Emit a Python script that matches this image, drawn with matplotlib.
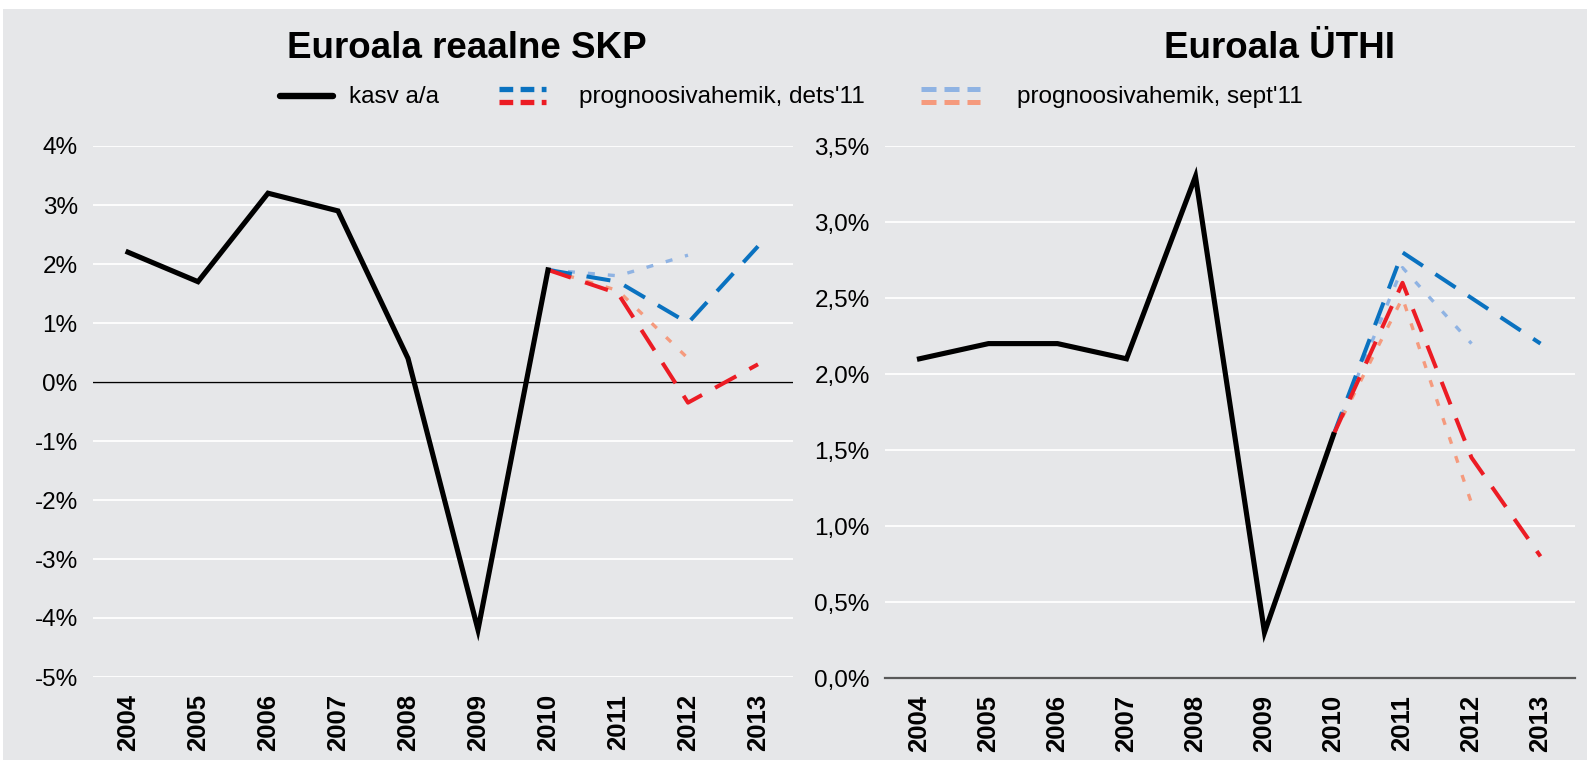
import numpy as np
import matplotlib
matplotlib.use("Agg")
import matplotlib.pyplot as plt
from matplotlib.lines import Line2D
from matplotlib.patches import Rectangle

# ---------------- data ----------------
years = ["2004", "2005", "2006", "2007", "2008", "2009", "2010", "2011", "2012", "2013"]

# Left: euro area real GDP growth (%)
gdp_actual = [2.2, 1.7, 3.2, 2.9, 0.4, -4.2, 1.9]          # 2004-2010
gdp_dec_hi = [1.9, 1.7, 1.0, 2.3]                          # 2010-2013
gdp_dec_lo = [1.9, 1.5, -0.35, 0.3]                        # 2010-2013
gdp_sep_hi = [1.9, 1.8, 2.15]                              # 2010-2012
gdp_sep_lo = [1.9, 1.55, 0.4]                              # 2010-2012

# Right: euro area HICP (%)
cpi_actual = [2.1, 2.2, 2.2, 2.1, 3.3, 0.3, 1.6]           # 2004-2010
cpi_dec_hi = [1.6, 2.8, 2.5, 2.2]                          # 2010-2013
cpi_dec_lo = [1.6, 2.6, 1.45, 0.8]                         # 2010-2013
cpi_sep_hi = [1.6, 2.7, 2.2]                               # 2010-2012
cpi_sep_lo = [1.6, 2.5, 1.15]                              # 2010-2012

gdp_ticks = [-5, -4, -3, -2, -1, 0, 1, 2, 3, 4]
gdp_ticklabels = ["-5%", "-4%", "-3%", "-2%", "-1%", "0%", "1%", "2%", "3%", "4%"]
cpi_ticks = [0.0, 0.5, 1.0, 1.5, 2.0, 2.5, 3.0, 3.5]
cpi_ticklabels = ["0,0%", "0,5%", "1,0%", "1,5%", "2,0%", "2,5%", "3,0%", "3,5%"]

titles = ["Euroala reaalne SKP", "Euroala ÜTHI"]
legend_labels = ["kasv a/a", "prognoosivahemik, dets'11", "prognoosivahemik, sept'11"]

# ---------------- style ----------------
BG = "#e6e7e9"
C_BLACK = "#000000"
C_BLUE = "#0a72c0"
C_RED = "#ec1c24"
C_LBLUE = "#8fb3e3"
C_LRED = "#f59a7d"

plt.rcParams["font.family"] = ["Liberation Sans", "DejaVu Sans"]

W, H = 1587, 760
fig = plt.figure(figsize=(W / 100, H / 100), dpi=100, facecolor="white")
fig.patches.append(Rectangle((3 / W, 0), 1 - 3 / W, (H - 9) / H, transform=fig.transFigure,
                             facecolor=BG, edgecolor="none", zorder=-10))


def fx(px):
    return px / W


def fy(py):
    return 1 - py / H


axL = fig.add_axes([fx(93), fy(677), 700 / W, (677 - 146) / H])
axR = fig.add_axes([fx(885), fy(678), 690 / W, (678 - 146) / H])

x_all = np.arange(len(years))
x_act = x_all[:7]
x_fc4 = x_all[6:10]
x_fc3 = x_all[6:9]

LW_ACT = 3.7
LW_DEC = 2.9
LW_SEP = 2.4
DASH_DEC = (6.0, 3.7)
DASH_SEP = (2.1, 3.9)


def draw(ax, actual, dec_hi, dec_lo, sep_hi, sep_lo, ticks, ticklabels, ylim):
    ax.set_facecolor("none")
    ax.set_xlim(-0.5, len(years) - 0.5)
    ax.set_ylim(*ylim)
    ax.set_yticks(ticks)
    ax.set_yticklabels(ticklabels, fontsize=17.5)
    ax.set_xticks(x_all)
    ax.set_xticklabels(years, rotation=90, fontsize=18.5, fontweight="bold")
    ax.tick_params(axis="both", length=0)
    ax.tick_params(axis="y", pad=11)
    ax.tick_params(axis="x", pad=12)
    ax.grid(axis="y", color="white", linewidth=1.3)
    ax.grid(axis="x", visible=False)
    ax.set_axisbelow(True)
    for s in ax.spines.values():
        s.set_visible(False)

    ax.plot(x_fc3, sep_hi, color=C_LBLUE, lw=LW_SEP, dashes=DASH_SEP, zorder=3)
    ax.plot(x_fc3, sep_lo, color=C_LRED, lw=LW_SEP, dashes=DASH_SEP, zorder=3)
    ax.plot(x_fc4, dec_hi, color=C_BLUE, lw=LW_DEC, dashes=DASH_DEC, zorder=4)
    ax.plot(x_fc4, dec_lo, color=C_RED, lw=LW_DEC, dashes=DASH_DEC, zorder=4)
    ax.plot(x_act, actual, color=C_BLACK, lw=LW_ACT, solid_joinstyle="miter", zorder=5)


draw(axL, gdp_actual, gdp_dec_hi, gdp_dec_lo, gdp_sep_hi, gdp_sep_lo,
     gdp_ticks, gdp_ticklabels, (-5, 4))
draw(axR, cpi_actual, cpi_dec_hi, cpi_dec_lo, cpi_sep_hi, cpi_sep_lo,
     cpi_ticks, cpi_ticklabels, (0, 3.5))

# zero line on the left chart, axis line on the right chart
axL.axhline(0, color="black", lw=1.0, zorder=2)
axR.spines["bottom"].set_visible(True)
axR.spines["bottom"].set_color("#595959")
axR.spines["bottom"].set_linewidth(1.6)

# titles
fig.text(fx(467), fy(49), titles[0], fontsize=26.5, fontweight="bold", ha="center", va="center")
fig.text(fx(1280), fy(49), titles[1], fontsize=26.5, fontweight="bold", ha="center", va="center")

# legend (drawn in figure pixel positions)
def hline(x0, x1, y, **kw):
    fig.add_artist(Line2D([fx(x0), fx(x1)], [fy(y), fy(y)], transform=fig.transFigure, **kw))


hline(280, 333, 96, color=C_BLACK, lw=4.6, solid_capstyle="round")
fig.text(fx(349), fy(97), legend_labels[0], fontsize=17.5, ha="left", va="center")

hline(499, 546, 89, color=C_BLUE, lw=3.8, dashes=(2.6, 1.4))
hline(499, 546, 102, color=C_RED, lw=3.8, dashes=(2.6, 1.4))
fig.text(fx(579), fy(97), legend_labels[1], fontsize=17.5, ha="left", va="center")

hline(921, 980, 89, color=C_LBLUE, lw=3.6, dashes=(3.0, 1.6))
hline(921, 980, 102, color=C_LRED, lw=3.6, dashes=(3.0, 1.6))
fig.text(fx(1017), fy(97), legend_labels[2], fontsize=17.5, ha="left", va="center")

fig.savefig("out.png", dpi=100, facecolor=fig.get_facecolor())
